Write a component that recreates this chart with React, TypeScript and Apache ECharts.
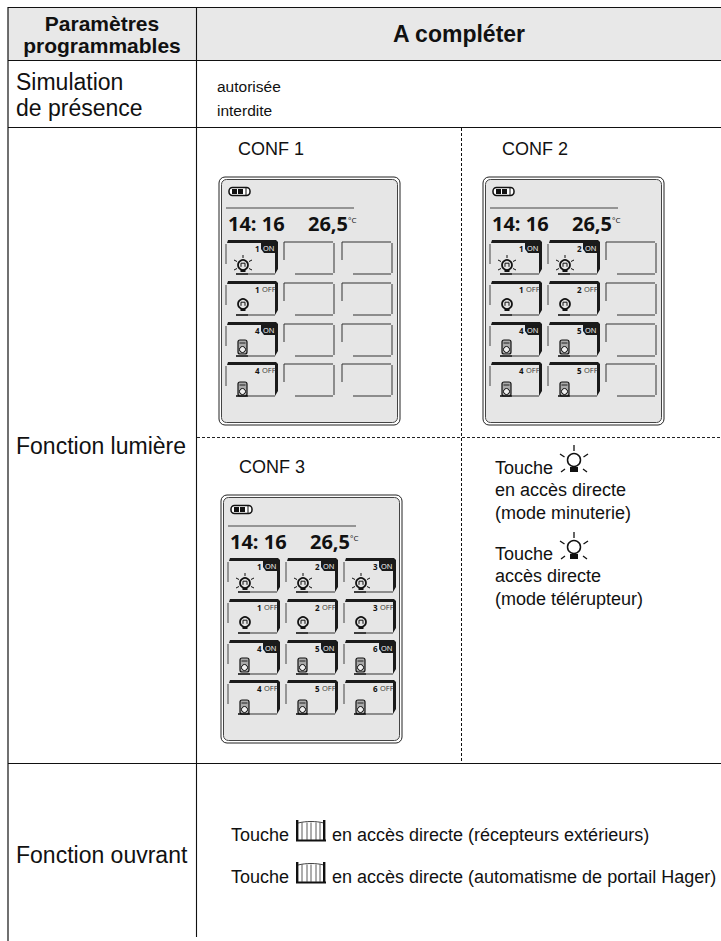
import React, { useEffect, useRef } from "react";
import * as echarts from "echarts";

const FONT = '"Liberation Sans", Arial, sans-serif';
const BOLD = '"Open Sans", "Noto Sans", sans-serif';

const HEADERS = ["Paramètres", "programmables", "A compléter"];
const SIM_LABELS = ["Simulation", "de présence"];
const SIM_OPTIONS = ["autorisée", "interdite"];
const ROW_LABELS = ["Fonction lumière", "Fonction ouvrant"];
const TIME_TEXT = "14: 16";
const TEMP_TEXT = "26,5";
const UNIT_TEXT = "°C";
const TOUCHE_LIGHT = [
  ["Touche", "en accès directe", "(mode minuterie)"],
  ["Touche", "accès directe", "(mode télérupteur)"],
];
const TOUCHE_GATE = [
  "en accès directe (récepteurs extérieurs)",
  "en accès directe (automatisme de portail Hager)",
];
// One list per phone: channel number for each active column
const PHONES = [
  { name: "CONF 1", nameX: 238, nameY: 149, x: 219, y: 177, on: [1], remote: [4] },
  { name: "CONF 2", nameX: 502, nameY: 149, x: 483, y: 177, on: [1, 2], remote: [4, 5] },
  { name: "CONF 3", nameX: 239, nameY: 467, x: 221, y: 495, on: [1, 2, 3], remote: [4, 5, 6] },
];

const INK = "#111111";
const KEY_X = [7, 65, 123];
const KEY_Y = [63, 104, 145, 185];
const KEY_W = 51;
const KEY_H = 34;

const line = (x1: number, y1: number, x2: number, y2: number, lineWidth = 1, stroke = INK, lineDash?: number[]) => ({
  type: "line",
  shape: { x1, y1, x2, y2 },
  style: { stroke, lineWidth, lineDash },
  silent: true,
});
const text = (x: number, y: number, t: string, fontSize: number, opts: any = {}) => ({
  type: "text",
  x,
  y,
  style: {
    text: t,
    fontSize,
    fontFamily: FONT,
    fill: INK,
    textAlign: "left",
    textVerticalAlign: "middle",
    ...opts,
  },
  silent: true,
});

function bulbOn(cx: number, cy: number, out: any[]) {
  const rays = [
    [0, -10, 0, -7],
    [-9, -5, -6, -3.5],
    [9, -5, 6, -3.5],
    [-9, 5, -6, 3.5],
    [9, 5, 6, 3.5],
  ];
  rays.forEach((r) => out.push(line(cx + r[0], cy + r[1], cx + r[2], cy + r[3], 1)));
  bulbOff(cx, cy, out);
}
function bulbOff(cx: number, cy: number, out: any[]) {
  out.push({ type: "circle", shape: { cx, cy, r: 5 }, style: { fill: "#e4e4e4", stroke: INK, lineWidth: 1.7 }, silent: true });
  out.push({ type: "polyline", shape: { points: [[cx - 2, cy + 1.8], [cx - 2, cy - 1.8], [cx + 2, cy - 1.8], [cx + 2, cy + 1.8]] }, style: { stroke: INK, lineWidth: 1, fill: "none" }, silent: true });
  out.push({ type: "rect", shape: { x: cx - 2.5, y: cy + 4.5, width: 5, height: 2.5 }, style: { fill: INK }, silent: true });
}
function remote(x: number, y: number, out: any[]) {
  out.push({ type: "rect", shape: { x, y, width: 9, height: 14, r: 2 }, style: { fill: "#aaaaaa", stroke: INK, lineWidth: 1.2 }, silent: true });
  out.push({ type: "circle", shape: { cx: x + 4.5, cy: y + 9.5, r: 3 }, style: { fill: "#eeeeee", stroke: INK, lineWidth: 1 }, silent: true });
  out.push(line(x + 1.5, y + 3, x + 7.5, y + 3, 0.9));
}

function emptyKey(x: number, y: number, out: any[]) {
  const s = "#333333";
  out.push(line(x, y + 2, x + KEY_W - 2, y + 2, 1, s));
  out.push(line(x, y + 2, x, y + 20, 1, s));
  out.push(line(x + KEY_W - 1, y + 3, x + KEY_W - 1, y + KEY_H - 1, 1, s));
  out.push(line(x + 11, y + KEY_H, x + KEY_W - 2, y + KEY_H, 1, s));
}

function activeKey(x: number, y: number, n: number, isOn: boolean, kind: "bulb" | "remote", out: any[]) {
  out.push({
    type: "polygon",
    shape: { points: [[x + 2, y], [x + KEY_W - 1, y], [x + KEY_W + 1, y + 2], [x + KEY_W + 1, y + KEY_H - 5], [x + KEY_W - 2, y + KEY_H], [x + KEY_W - 2, y + 3], [x + 1, y + 3]] },
    style: { fill: "#1a1a1a" },
    silent: true,
  });
  out.push(line(x, y + 4, x, y + 24, 1, "#444444"));
  out.push(line(x + 10, y + KEY_H, x + KEY_W - 2, y + KEY_H, 1, "#333333"));
  out.push(text(x + 29, y + 8, String(n), 8, { fontWeight: "bold", fontFamily: BOLD }));
  if (isOn) {
    out.push({
      type: "polygon",
      shape: { points: [[x + 35, y + 3], [x + KEY_W - 2, y + 3], [x + KEY_W - 2, y + 13], [x + 38, y + 13], [x + 35, y + 9]] },
      style: { fill: "#1a1a1a" },
      silent: true,
    });
    out.push(text(x + 37, y + 8, "ON", 7.5, { fill: "#ffffff", fontFamily: BOLD }));
  } else {
    out.push(text(x + 36, y + 8, "OFF", 7.5, { fill: "#333333", fontFamily: BOLD }));
  }
  if (kind === "bulb") {
    if (isOn) bulbOn(x + 17, y + 25, out);
    else bulbOff(x + 17, y + 23, out);
  } else {
    remote(x + 12, y + (isOn ? 18 : 20), out);
  }
  out.push(line(x + 10, y + KEY_H, x + 22, y + KEY_H, 1.3));
}

function phone(p: any, out: any[]) {
  const { x: ox, y: oy } = p;
  out.push({ type: "rect", shape: { x: ox, y: oy, width: 181, height: 248, r: 6 }, style: { fill: "#ffffff", stroke: "#222222", lineWidth: 1 }, silent: true });
  out.push({ type: "rect", shape: { x: ox + 2.5, y: oy + 2.5, width: 176, height: 243, r: 5 }, style: { fill: "#e6e6e6", stroke: "#444444", lineWidth: 1 }, silent: true });
  out.push({ type: "rect", shape: { x: ox + 10, y: oy + 10.5, width: 21, height: 8, r: 3.5 }, style: { fill: "#ffffff", stroke: INK, lineWidth: 1.5 }, silent: true });
  out.push({ type: "rect", shape: { x: ox + 13, y: oy + 12, width: 5, height: 5 }, style: { fill: INK }, silent: true });
  out.push({ type: "rect", shape: { x: ox + 19, y: oy + 12, width: 5, height: 5 }, style: { fill: INK }, silent: true });
  out.push(line(ox + 27, oy + 11, ox + 27, oy + 18, 1));
  out.push(line(ox + 7, oy + 31, ox + 135, oy + 31, 1, "#444444"));
  out.push(text(ox + 9, oy + 46, TIME_TEXT, 20, { fontFamily: BOLD, fontWeight: "bold", fill: "#111111" }));
  out.push(text(ox + 89, oy + 46, TEMP_TEXT, 20, { fontFamily: BOLD, fontWeight: "bold", fill: "#111111" }));
  out.push(text(ox + 129, oy + 42, UNIT_TEXT, 8, { fontFamily: BOLD, fill: "#111111" }));
  const rows: [number[], boolean, "bulb" | "remote"][] = [
    [p.on, true, "bulb"],
    [p.on, false, "bulb"],
    [p.remote, true, "remote"],
    [p.remote, false, "remote"],
  ];
  rows.forEach((r, ri) => {
    KEY_X.forEach((kx, ci) => {
      const n = r[0][ci];
      if (n !== undefined) activeKey(ox + kx, oy + KEY_Y[ri], n, r[1], r[2], out);
      else emptyKey(ox + kx, oy + KEY_Y[ri], out);
    });
  });
}

function lightGlyph(cx: number, by: number, out: any[]) {
  const rays = [
    [0, -23, 0, -17],
    [-14, -14, -9.5, -11],
    [14, -14, 9.5, -11],
    [-13, 4, -9, 1],
    [13, 4, 9, 1],
  ];
  rays.forEach((r) => out.push(line(cx + r[0], by + r[1], cx + r[2], by + r[3], 1.3)));
  out.push({ type: "circle", shape: { cx, cy: by - 8, r: 6.5 }, style: { fill: "#ffffff", stroke: INK, lineWidth: 1.5 }, silent: true });
  out.push({ type: "rect", shape: { x: cx - 4, y: by - 1, width: 8, height: 5 }, style: { fill: INK }, silent: true });
}

function gateGlyph(x: number, y: number, out: any[]) {
  out.push({ type: "rect", shape: { x: x, y: y, width: 2.4, height: 21 }, style: { fill: INK }, silent: true });
  out.push({ type: "rect", shape: { x: x + 27, y: y, width: 2.4, height: 21 }, style: { fill: INK }, silent: true });
  out.push({ type: "rect", shape: { x: x, y: y + 19.5, width: 30, height: 2 }, style: { fill: INK }, silent: true });
  out.push({ type: "bezierCurve", shape: { x1: x + 2, y1: y + 3, cpx1: x + 10, cpy1: y + 1, x2: x + 28, y2: y + 3, cpx2: x + 20, cpy2: y + 1 }, style: { stroke: INK, lineWidth: 0.8, fill: "none" }, silent: true });
  [6, 11, 15, 20, 24].forEach((d) => out.push(line(x + d, y + 2.5, x + d, y + 20, 0.8, "#333333")));
}

function buildGraphic() {
  const out: any[] = [];
  out.push({ type: "rect", shape: { x: 8, y: 8, width: 713, height: 52 }, style: { fill: "#e8e8e8" }, silent: true });
  out.push(line(8, 7.5, 721, 7.5, 1.2));
  out.push(line(8, 60.5, 721, 60.5, 1.2));
  out.push(line(8, 127.5, 721, 127.5, 1.2));
  out.push(line(8, 763.5, 721, 763.5, 1.1));
  out.push(line(8, 7, 8, 941, 1.2));
  out.push(line(196.5, 7, 196.5, 937, 1.1));
  out.push(line(461.5, 128, 461.5, 763, 1, INK, [3, 2]));
  out.push(line(197, 437.5, 721, 437.5, 1, "#222222", [3, 2]));

  out.push(text(102, 23, HEADERS[0], 21, { fontWeight: "bold", textAlign: "center" }));
  out.push(text(102, 45, HEADERS[1], 21, { fontWeight: "bold", textAlign: "center" }));
  out.push(text(459, 33.5, HEADERS[2], 23, { fontWeight: "bold", textAlign: "center" }));
  out.push(text(16, 82, SIM_LABELS[0], 23));
  out.push(text(16, 108, SIM_LABELS[1], 23));
  out.push(text(217, 86, SIM_OPTIONS[0], 15.5));
  out.push(text(217, 110, SIM_OPTIONS[1], 15.5));
  out.push(text(16, 446, ROW_LABELS[0], 23));
  out.push(text(16, 855, ROW_LABELS[1], 23));

  PHONES.forEach((p) => {
    out.push(text(p.nameX, p.nameY, p.name, 18));
    phone(p, out);
  });

  const tx = 495;
  TOUCHE_LIGHT.forEach((block, i) => {
    const by = i === 0 ? 468 : 554;
    out.push(text(tx, by, block[0], 18));
    lightGlyph(574, by + (i === 0 ? 0 : 1), out);
    out.push(text(tx, by + 22, block[1], 18));
    out.push(text(tx, by + 45, block[2], 18));
  });

  TOUCHE_GATE.forEach((t, i) => {
    const by = i === 0 ? 835 : 877;
    out.push(text(231, by, "Touche", 18));
    gateGlyph(296, by - 15, out);
    out.push(text(332, by, t, 18));
  });
  return out;
}

export default function App() {
  const ref = useRef<HTMLDivElement>(null);
  useEffect(() => {
    const chart = echarts.init(ref.current!, undefined, { renderer: "svg" });
    chart.setOption({
      animation: false,
      backgroundColor: "#ffffff",
      graphic: { elements: buildGraphic() },
    });
    return () => chart.dispose();
  }, []);
  return <div ref={ref} style={{ position: "absolute", left: 0, top: 0, width: 721, height: 941 }} />;
}
